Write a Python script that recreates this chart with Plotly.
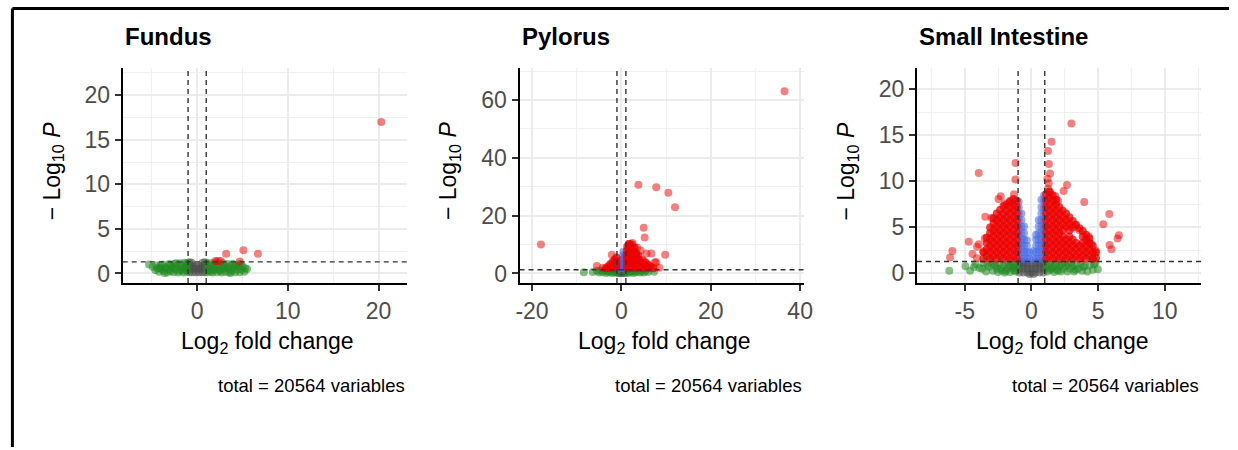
import plotly.graph_objects as go

# ---------------- DATA ----------------
panel_titles = ["Fundus", "Pylorus", "Small Intestine"]
caption_text = "total = 20564 variables"
fc_cutoff = 1.0
p_cutoff_log = 1.30  # -log10(0.05)

# tick definitions
fundus_xticks = [0, 10, 20]
fundus_xlabels = ["0", "10", "20"]
fundus_xminor = [-5, 5, 15]
fundus_yticks = [0, 5, 10, 15, 20]
fundus_ylabels = ["0", "5", "10", "15", "20"]
fundus_yminor = [2.5, 7.5, 12.5, 17.5, 22.5]

pylorus_xticks = [-20, 0, 20, 40]
pylorus_xlabels = ["-20", "0", "20", "40"]
pylorus_xminor = [-10, 10, 30]
pylorus_yticks = [0, 20, 40, 60]
pylorus_ylabels = ["0", "20", "40", "60"]
pylorus_yminor = [10, 30, 50, 70]

si_xticks = [-5, 0, 5, 10]
si_xlabels = ["-5", "0", "5", "10"]
si_xminor = [-7.5, -2.5, 2.5, 7.5, 12.5]
si_yticks = [0, 5, 10, 15, 20]
si_ylabels = ["0", "5", "10", "15", "20"]
si_yminor = [2.5, 7.5, 12.5, 17.5]

# ---- Fundus ----
fundus_ns = [(-0.85, 0.15), (-0.5, 0.15), (-0.15, 0.15), (0.2, 0.15), (0.55, 0.15), (0.85, 0.15),
             (-0.85, 0.55), (-0.5, 0.55), (-0.15, 0.5), (0.2, 0.5), (0.55, 0.55), (0.85, 0.55),
             (-0.85, 0.95), (-0.5, 0.9), (-0.15, 0.8), (0.2, 0.8), (0.55, 0.9), (0.85, 0.95),
             (-0.85, 1.25), (-0.6, 1.2), (0.6, 1.2), (0.85, 1.25)]
fundus_fc = [(-5.3, 1.0), (-4.9, 0.75), (-4.6, 0.4), (-4.5, 0.9), (-4.2, 0.2), (-4.1, 0.65), (-3.8, 1.0),
             (-3.7, 0.3), (-3.5, 0.7), (-3.3, 0.1), (-3.1, 1.05), (-3.0, 0.45), (-2.8, 0.8), (-2.6, 0.15),
             (-2.5, 1.1), (-2.4, 0.5), (-2.2, 0.85), (-2.1, 0.1), (-1.9, 1.15), (-1.8, 0.45), (-1.7, 0.8),
             (-1.5, 0.1), (-1.4, 1.2), (-1.35, 0.55), (-1.2, 0.85), (-1.1, 0.2), (-1.05, 1.2), (-1.1, 0.6),
             (-2.0, 0.3), (-2.7, 0.6), (-3.4, 0.55), (-4.0, 0.95), (-1.6, 0.3), (-2.3, 1.15), (-3.0, 0.95),
             (-3.9, 0.5), (-4.4, 0.6), (-3.6, 0.05), (-2.9, 0.25), (-1.3, 1.0),
             (1.05, 1.2), (1.1, 0.6), (1.1, 0.15), (1.3, 0.9), (1.4, 0.35), (1.5, 1.15), (1.6, 0.6),
             (1.7, 0.1), (1.8, 0.95), (1.9, 0.4), (2.0, 1.2), (2.1, 0.7), (2.2, 0.15), (2.3, 1.0),
             (2.4, 0.45), (2.6, 0.8), (2.7, 0.1), (2.8, 1.15), (2.9, 0.5), (3.0, 0.85), (3.1, 0.2),
             (3.3, 1.05), (3.4, 0.55), (3.5, 0.1), (3.6, 0.85), (3.8, 0.3), (3.9, 1.1), (4.0, 0.65),
             (4.2, 0.15), (4.3, 0.95), (4.4, 0.45), (4.6, 0.8), (4.7, 0.15), (4.8, 1.1), (4.9, 0.45),
             (5.0, 0.8), (5.2, 0.2), (5.3, 0.6), (5.5, 0.5), (2.5, 0.3), (3.2, 0.65), (4.1, 0.9),
             (1.5, 0.2), (3.7, 0.05)]
fundus_p = []
fundus_both = [(20.3, 17.0), (3.2, 2.2), (5.1, 2.6), (6.7, 2.2), (2.0, 1.4), (2.3, 1.4), (2.6, 1.4),
               (4.7, 1.35)]
fundus_both_core = []

# ---- Pylorus ----
pylorus_ns = [(-0.8, 0.2), (-0.4, 0.2), (0.0, 0.2), (0.4, 0.2), (0.8, 0.2), (-0.8, 0.8), (-0.4, 0.8),
              (0.0, 0.8), (0.4, 0.8), (0.8, 0.8), (-0.6, 1.2), (0.6, 1.2), (0.0, 1.2)]
pylorus_fc = [(-8.4, 0.45), (-6.4, 0.5), (-5.5, 0.9), (-5.0, 0.3), (-4.6, 1.0), (-4.2, 0.4), (-3.8, 0.9),
              (-3.4, 0.2), (-3.0, 0.8), (-2.7, 0.4), (-2.4, 1.0), (-2.1, 0.2), (-1.8, 0.7), (-1.5, 0.3),
              (-1.2, 1.0), (-1.1, 0.4), (1.1, 0.4), (1.2, 1.0), (1.5, 0.2), (1.8, 0.8), (2.1, 0.4),
              (2.4, 1.0), (2.7, 0.2), (3.0, 0.7), (3.4, 0.4), (3.8, 1.0), (4.2, 0.3), (4.6, 0.8),
              (5.0, 0.3), (5.5, 0.9), (6.0, 0.5), (7.3, 0.6)]
pylorus_p = [(-0.7, 1.8), (-0.7, 3.0), (-0.3, 1.8), (-0.3, 3.2), (-0.3, 4.4), (0.1, 1.8), (0.1, 3.3),
             (0.1, 4.8), (0.4, 1.8), (0.4, 3.3), (0.4, 4.8), (0.4, 6.2), (0.45, 7.5), (0.8, 1.8),
             (0.8, 3.3), (0.8, 4.8), (0.8, 6.0)]
pylorus_both = [(36.5, 63.0), (-18.0, 10.0), (3.8, 30.7), (7.8, 29.8), (10.5, 27.9), (12.0, 22.9),
                (5.0, 15.8), (5.2, 12.4), (9.8, 6.5), (5.6, 6.9), (6.7, 6.9), (7.5, 3.9), (7.8, 3.9),
                (4.3, 7.9), (-2.15, 6.5), (-5.5, 2.6), (1.7, 10.0), (-4.2, 2.0), (8.5, 2.0), (3.5, 9.0),
                (2.5, 10.5)]
pylorus_both_core = [(-3.5, 1.8), (-3.0, 2.4), (-2.5, 1.8), (-2.5, 3.2), (-2.0, 2.2), (-2.0, 4.0),
                     (-1.5, 1.8), (-1.5, 3.3), (-1.5, 4.8), (-1.1, 2.5), (-1.1, 4.0), (-1.1, 5.5),
                     (1.2, 1.8), (1.2, 3.3), (1.2, 4.8), (1.2, 6.3), (1.2, 7.8), (1.3, 9.3), (1.6, 2.5),
                     (1.6, 4.0), (1.6, 5.5), (1.6, 7.0), (1.6, 8.5), (1.7, 10.3), (2.0, 1.8), (2.0, 3.3),
                     (2.0, 4.8), (2.0, 6.3), (2.0, 7.8), (2.0, 9.3), (2.4, 2.5), (2.4, 4.0), (2.4, 5.5),
                     (2.4, 7.0), (2.4, 8.5), (2.3, 10.0), (2.8, 1.8), (2.8, 3.3), (2.8, 4.8), (2.8, 6.3),
                     (2.8, 7.8), (2.9, 9.0), (3.3, 2.5), (3.3, 4.0), (3.3, 5.5), (3.3, 7.0), (3.8, 1.8),
                     (3.8, 3.3), (3.8, 4.8), (3.8, 6.2), (4.3, 2.5), (4.3, 4.0), (4.8, 1.8), (4.8, 3.3),
                     (4.8, 4.6), (5.4, 2.5), (5.4, 3.8), (6.0, 1.8), (6.0, 3.0), (6.6, 2.3), (7.2, 1.8)]

# ---- Small Intestine ----
si_ns = [(-0.9, 0.1), (-0.6, 0.1), (-0.3, 0.1), (0.0, 0.1), (0.3, 0.1), (0.6, 0.1), (0.9, 0.1),
         (-0.9, 0.5), (-0.6, 0.5), (-0.3, 0.5), (0.0, 0.5), (0.3, 0.5), (0.6, 0.5), (0.9, 0.5),
         (-0.9, 0.9), (-0.6, 0.9), (-0.3, 0.9), (0.0, 0.9), (0.3, 0.9), (0.6, 0.9), (0.9, 0.9),
         (-0.9, 1.2), (-0.6, 1.2), (-0.3, 1.2), (0.3, 1.2), (0.6, 1.2), (0.9, 1.2), (-0.15, -0.05),
         (0.15, -0.05)]
si_fc = [(-6.16, 0.28), (-4.95, 0.79), (-4.2, 1.0), (-4.6, 0.3), (-3.9, 0.6), (-3.6, 1.1), (-3.4, 0.2),
         (-3.2, 0.7), (-3.0, 1.15), (-2.9, 0.3), (-2.7, 0.8), (-2.5, 0.15), (-2.4, 1.1), (-2.3, 0.55),
         (-2.1, 0.9), (-2.0, 0.1), (-1.9, 1.2), (-1.8, 0.5), (-1.7, 0.9), (-1.6, 0.15), (-1.5, 1.2),
         (-1.4, 0.6), (-1.3, 0.95), (-1.2, 0.2), (-1.1, 1.2), (-1.1, 0.6), (-3.7, 0.5), (-2.6, 0.5),
         (-1.9, 0.3), (-1.3, 0.35), (-2.8, 1.0), (-3.3, 0.95), (-4.3, 0.7), (-2.2, 0.3), (-1.55, 0.8),
         (1.1, 1.2), (1.1, 0.6), (1.2, 0.2), (1.3, 0.95), (1.4, 0.4), (1.5, 1.2), (1.6, 0.7), (1.7, 0.15),
         (1.8, 1.0), (1.9, 0.45), (2.0, 1.2), (2.1, 0.8), (2.2, 0.2), (2.3, 1.0), (2.4, 0.5), (2.5, 1.2),
         (2.6, 0.8), (2.7, 0.2), (2.8, 1.0), (2.9, 0.5), (3.0, 1.2), (3.1, 0.8), (3.2, 0.2), (3.4, 0.95),
         (3.5, 0.5), (3.7, 1.15), (3.8, 0.3), (4.0, 0.8), (4.2, 0.2), (4.4, 0.9), (4.7, 1.0),
         (4.98, 0.45), (4.8, 1.2), (4.6, 0.4), (1.5, 0.5), (2.0, 0.3), (3.3, 0.4), (3.9, 0.7)]
si_p = [(-0.95, 1.6), (-0.95, 2.3), (-0.95, 3.0), (-0.95, 3.7), (-0.95, 4.4), (-0.95, 5.1), (-0.95, 5.8),
        (-0.95, 6.5), (-0.95, 7.2), (-0.95, 7.8),
        (-0.75, 1.6), (-0.75, 2.3), (-0.75, 3.0), (-0.75, 3.7), (-0.75, 4.4), (-0.75, 5.1), (-0.75, 5.8),
        (-0.75, 6.5),
        (-0.55, 1.6), (-0.55, 2.3), (-0.55, 3.0), (-0.55, 3.7), (-0.55, 4.4), (-0.55, 5.1),
        (-0.35, 1.6), (-0.35, 2.3), (-0.35, 3.0), (-0.35, 3.6),
        (-0.15, 1.6), (-0.15, 2.3),
        (0.15, 1.6), (0.15, 2.4),
        (0.35, 1.6), (0.35, 2.3), (0.35, 3.0), (0.35, 3.7), (0.35, 4.2),
        (0.55, 1.6), (0.55, 2.3), (0.55, 3.0), (0.55, 3.7), (0.55, 4.4), (0.55, 5.1), (0.55, 5.8),
        (0.75, 1.6), (0.75, 2.3), (0.75, 3.0), (0.75, 3.7), (0.75, 4.4), (0.75, 5.1), (0.75, 5.8),
        (0.75, 6.5), (0.75, 7.2), (0.75, 8.0),
        (0.95, 1.6), (0.95, 2.3), (0.95, 3.0), (0.95, 3.7), (0.95, 4.4), (0.95, 5.1), (0.95, 5.8),
        (0.95, 6.5), (0.95, 7.2), (0.95, 7.9), (0.95, 8.5)]
si_both = [(3.0, 16.3), (1.51, 14.3), (1.24, 13.3), (1.31, 11.9), (1.4, 10.85), (-1.19, 12.0),
           (-1.2, 10.2), (-3.95, 10.9), (2.67, 9.6), (2.42, 8.95), (3.96, 7.77), (5.84, 6.47),
           (5.39, 5.35), (6.56, 4.16), (6.46, 3.8), (5.86, 3.09), (6.0, 2.62), (-2.3, 8.4), (-2.47, 8.1),
           (-3.46, 6.15), (-3.0, 6.04), (-4.7, 3.45), (-3.95, 3.16), (-4.08, 2.9), (-5.93, 2.44),
           (-6.1, 1.73), (-4.42, 2.1), (-4.08, 1.66), (1.2, 10.3), (1.3, 9.8), (1.25, 9.2), (-2.0, 7.6),
           (-1.6, 7.9), (-3.5, 3.8), (-3.6, 2.4), (4.3, 4.0), (4.5, 3.2), (4.8, 2.5), (4.6, 1.6),
           (3.3, 5.2), (3.6, 4.7), (2.0, 7.9), (1.8, 8.4), (-1.3, 8.6), (1.4, 8.8)]
si_both_core = [
    (-1.1, 1.6), (-1.1, 2.3), (-1.1, 3.0), (-1.1, 3.7), (-1.1, 4.4), (-1.1, 5.1), (-1.1, 5.8), (-1.1, 6.5),
    (-1.1, 7.2), (-1.1, 7.9),
    (-1.35, 1.9), (-1.35, 2.6), (-1.35, 3.3), (-1.35, 4.0), (-1.35, 4.7), (-1.35, 5.4), (-1.35, 6.1),
    (-1.35, 6.8), (-1.35, 7.5), (-1.35, 8.1),
    (-1.6, 1.6), (-1.6, 2.3), (-1.6, 3.0), (-1.6, 3.7), (-1.6, 4.4), (-1.6, 5.1), (-1.6, 5.8), (-1.6, 6.5),
    (-1.6, 7.2), (-1.6, 7.8),
    (-1.85, 1.9), (-1.85, 2.6), (-1.85, 3.3), (-1.85, 4.0), (-1.85, 4.7), (-1.85, 5.4), (-1.85, 6.1),
    (-1.85, 6.8), (-1.85, 7.5),
    (-2.1, 1.6), (-2.1, 2.3), (-2.1, 3.0), (-2.1, 3.7), (-2.1, 4.4), (-2.1, 5.1), (-2.1, 5.8), (-2.1, 6.5),
    (-2.1, 7.3),
    (-2.35, 1.9), (-2.35, 2.6), (-2.35, 3.3), (-2.35, 4.0), (-2.35, 4.7), (-2.35, 5.4), (-2.35, 6.1),
    (-2.35, 6.9),
    (-2.6, 1.6), (-2.6, 2.3), (-2.6, 3.0), (-2.6, 3.7), (-2.6, 4.4), (-2.6, 5.1), (-2.6, 5.8), (-2.6, 6.5),
    (-2.85, 1.9), (-2.85, 2.6), (-2.85, 3.3), (-2.85, 4.0), (-2.85, 4.7), (-2.85, 5.4), (-2.85, 6.0),
    (-3.1, 1.6), (-3.1, 2.3), (-3.1, 3.0), (-3.1, 3.7), (-3.1, 4.4), (-3.1, 5.0),
    (-3.35, 1.9), (-3.35, 2.6), (-3.35, 3.3), (-3.35, 3.9),
    (-3.6, 1.6), (-3.6, 2.3),
    (1.1, 1.6), (1.1, 2.3), (1.1, 3.0), (1.1, 3.7), (1.1, 4.4), (1.1, 5.1), (1.1, 5.8), (1.1, 6.5),
    (1.1, 7.2), (1.1, 7.9), (1.1, 8.6),
    (1.35, 1.9), (1.35, 2.6), (1.35, 3.3), (1.35, 4.0), (1.35, 4.7), (1.35, 5.4), (1.35, 6.1), (1.35, 6.8),
    (1.35, 7.5), (1.35, 8.2), (1.35, 8.9),
    (1.6, 1.6), (1.6, 2.3), (1.6, 3.0), (1.6, 3.7), (1.6, 4.4), (1.6, 5.1), (1.6, 5.8), (1.6, 6.5),
    (1.6, 7.2), (1.6, 7.9), (1.6, 8.5),
    (1.85, 1.9), (1.85, 2.6), (1.85, 3.3), (1.85, 4.0), (1.85, 4.7), (1.85, 5.4), (1.85, 6.1),
    (1.85, 6.8), (1.85, 7.5), (1.85, 8.0),
    (2.1, 1.6), (2.1, 2.3), (2.1, 3.0), (2.1, 3.7), (2.1, 4.4), (2.1, 5.1), (2.1, 5.8), (2.1, 6.5),
    (2.1, 7.2),
    (2.35, 1.9), (2.35, 2.6), (2.35, 3.3), (2.35, 4.0), (2.35, 4.7), (2.35, 5.4), (2.35, 6.1), (2.35, 6.8),
    (2.6, 1.6), (2.6, 2.3), (2.6, 3.0), (2.6, 3.7), (2.6, 5.1), (2.6, 5.8), (2.6, 6.5),
    (2.85, 1.9), (2.85, 2.6), (2.85, 3.3), (2.85, 4.0), (2.85, 4.7), (2.85, 5.4), (2.85, 6.1),
    (3.1, 1.6), (3.1, 2.3), (3.1, 3.0), (3.1, 3.7), (3.1, 5.0), (3.1, 5.7),
    (3.35, 1.9), (3.35, 2.6), (3.35, 3.3), (3.35, 5.3),
    (3.6, 1.6), (3.6, 2.3), (3.6, 3.0), (3.6, 4.9),
    (3.85, 1.9), (3.85, 2.6), (3.85, 3.3), (3.85, 4.0), (3.85, 4.6),
    (4.1, 1.6), (4.1, 2.3), (4.1, 3.0), (4.1, 3.7), (4.1, 4.2),
    (4.35, 1.9), (4.35, 2.6), (4.35, 3.3), (4.35, 3.8),
    (4.6, 1.6), (4.6, 2.3), (4.6, 3.0),
    (4.85, 1.7), (4.85, 2.3)]

# ---------------- STYLE / LAYOUT ----------------
W, H = 1238, 450
FONT = "Liberation Sans, Arial, sans-serif"
COL_NS = "#4D4D4D"
COL_FC = "#228B22"
COL_P = "#4169E1"
COL_BOTH = "#EE0000"
MSIZE = 8


def px_x(p):
    return p / W


def px_y(p):
    return 1 - p / H


panels = [
    dict(title=panel_titles[0], left=120, right=407,
         xr=[-8.2, 23.1], yr=[-1.08, 23.1],
         xt=fundus_xticks, xl=fundus_xlabels, xm=fundus_xminor,
         yt=fundus_yticks, yl=fundus_ylabels, ym=fundus_yminor,
         ns=fundus_ns, fc=fundus_fc, p=fundus_p, both=fundus_both, core=fundus_both_core),
    dict(title=panel_titles[1], left=521, right=808,
         xr=[-22.8, 40.75], yr=[-3.33, 71.2],
         xt=pylorus_xticks, xl=pylorus_xlabels, xm=pylorus_xminor,
         yt=pylorus_yticks, yl=pylorus_ylabels, ym=pylorus_yminor,
         ns=pylorus_ns, fc=pylorus_fc, p=pylorus_p, both=pylorus_both, core=pylorus_both_core),
    dict(title=panel_titles[2], left=922.7, right=1210,
         xr=[-8.58, 12.74], yr=[-1.05, 22.37],
         xt=si_xticks, xl=si_xlabels, xm=si_xminor,
         yt=si_yticks, yl=si_ylabels, ym=si_yminor,
         ns=si_ns, fc=si_fc, p=si_p, both=si_both, core=si_both_core),
]

TOP, BOTTOM = 68, 285

fig = go.Figure()
layout = dict(width=W, height=H, margin=dict(l=0, r=0, t=0, b=0), autosize=False,
              paper_bgcolor="white", plot_bgcolor="white", showlegend=False,
              font=dict(family=FONT, color="black"))
shapes = []
annotations = []

for i, pn in enumerate(panels):
    k = "" if i == 0 else str(i + 1)
    xa, ya = "x" + k, "y" + k
    axis_common = dict(showline=True, linecolor="black", linewidth=2, mirror=False,
                       ticks="outside", ticklen=6, tickwidth=1.5, tickcolor="#333333",
                       tickfont=dict(family=FONT, size=23, color="#4D4D4D"),
                       showgrid=True, gridcolor="#EBEBEB", gridwidth=1.8, zeroline=False,
                       tickmode="array", fixedrange=True)
    layout["xaxis" + k] = dict(axis_common, domain=[px_x(pn["left"]), px_x(pn["right"])],
                               range=pn["xr"], tickvals=pn["xt"], ticktext=pn["xl"], anchor=ya,
                               minor=dict(tickmode="array", tickvals=pn["xm"], showgrid=True,
                                          gridcolor="#EFEFEF", gridwidth=1, ticks=""))
    layout["yaxis" + k] = dict(axis_common, domain=[px_y(BOTTOM), px_y(TOP)],
                               range=pn["yr"], tickvals=pn["yt"], ticktext=pn["yl"], anchor=xa,
                               minor=dict(tickmode="array", tickvals=pn["ym"], showgrid=True,
                                          gridcolor="#EFEFEF", gridwidth=1, ticks=""))

    for pts, col, op in [(pn["ns"], COL_NS, 0.55), (pn["fc"], COL_FC, 0.55), (pn["p"], COL_P, 0.55),
                         (pn["core"], COL_BOTH, 0.75), (pn["both"], COL_BOTH, 0.5)]:
        if not pts:
            continue
        xs, ys = zip(*pts)
        fig.add_trace(go.Scatter(x=list(xs), y=list(ys), mode="markers", xaxis=xa, yaxis=ya,
                                 marker=dict(size=MSIZE, color=col, opacity=op, line=dict(width=0)),
                                 hoverinfo="skip"))

    dash = dict(color="#333333", width=1.4, dash="5px,4px")
    for xv in (-fc_cutoff, fc_cutoff):
        shapes.append(dict(type="line", xref=xa, yref=ya + " domain", x0=xv, x1=xv, y0=0, y1=1,
                           line=dash, layer="above"))
    shapes.append(dict(type="line", xref=xa + " domain", yref=ya, x0=0, x1=1,
                       y0=p_cutoff_log, y1=p_cutoff_log, line=dash, layer="above"))

    cx = (pn["left"] + pn["right"]) / 2
    annotations.append(dict(text="<b>" + pn["title"] + "</b>", xref="paper", yref="paper",
                            x=px_x(pn["left"]), y=px_y(37), xanchor="left", yanchor="middle",
                            showarrow=False, font=dict(family=FONT, size=24, color="black")))
    annotations.append(dict(text="Log<sub>2</sub> fold change", xref="paper", yref="paper",
                            x=px_x(cx + 3), y=px_y(345), xanchor="center", yanchor="middle",
                            showarrow=False, font=dict(family=FONT, size=23, color="black")))
    annotations.append(dict(text="\u2212 Log<sub>10</sub> <i>P</i>", xref="paper", yref="paper",
                            x=px_x(pn["left"] - 70), y=px_y(172), xanchor="center", yanchor="middle",
                            textangle=-90, showarrow=False,
                            font=dict(family=FONT, size=23, color="black")))
    annotations.append(dict(text=caption_text, xref="paper", yref="paper",
                            x=px_x(pn["right"]), y=px_y(388), xanchor="right", yanchor="middle",
                            showarrow=False, font=dict(family=FONT, size=18.5, color="black")))

# outer frame (top and left edges visible in the reference)
shapes.append(dict(type="line", xref="paper", yref="paper", x0=px_x(8.5), x1=1,
                   y0=px_y(8.5), y1=px_y(8.5), line=dict(color="black", width=3)))
shapes.append(dict(type="line", xref="paper", yref="paper", x0=px_x(8.5), x1=px_x(8.5),
                   y0=px_y(8.5), y1=0, line=dict(color="black", width=3)))

layout["shapes"] = shapes
layout["annotations"] = annotations
fig.update_layout(**layout)
fig.write_html("out.html", config={"displayModeBar": False})
